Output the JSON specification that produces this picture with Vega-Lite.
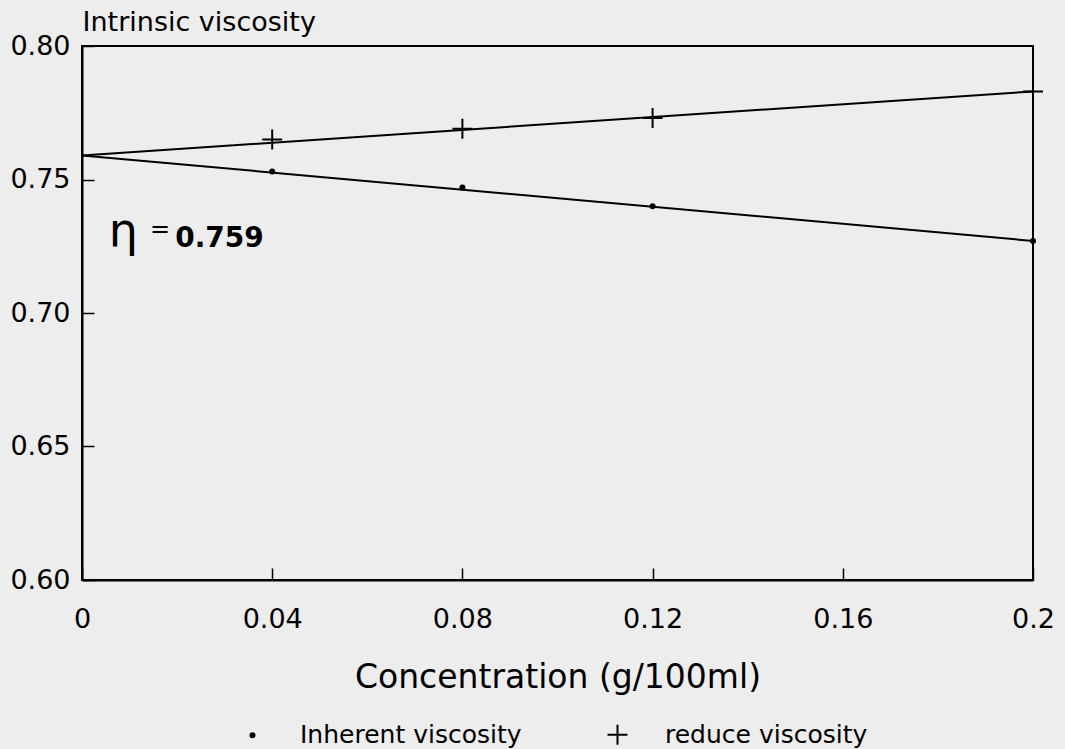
{
  "$schema": "https://vega.github.io/schema/vega-lite/v6.json",
  "autosize": "none",
  "width": 951,
  "height": 534,
  "padding": {"left": 82, "top": 46, "right": 32, "bottom": 169},
  "background": "#ededed",
  "config": {
    "font": "DejaVu Sans",
    "view": {"stroke": "black", "strokeWidth": 2},
    "axis": {"grid": false, "domainColor": "black", "domainWidth": 2, "tickColor": "black", "tickWidth": 1.5, "labelColor": "black", "titleColor": "black", "labelFontWeight": "normal", "titleFontWeight": "normal"}
  },
  "datasets": {
    "points": [
      {"c": 0.04, "v": 0.753, "series": "Inherent viscosity"},
      {"c": 0.08, "v": 0.747, "series": "Inherent viscosity"},
      {"c": 0.12, "v": 0.740, "series": "Inherent viscosity"},
      {"c": 0.2, "v": 0.727, "series": "Inherent viscosity"},
      {"c": 0.04, "v": 0.765, "series": "reduce viscosity"},
      {"c": 0.08, "v": 0.769, "series": "reduce viscosity"},
      {"c": 0.12, "v": 0.773, "series": "reduce viscosity"},
      {"c": 0.2, "v": 0.783, "series": "reduce viscosity"}
    ],
    "fits": [
      {"c": 0, "v": 0.759, "series": "Inherent viscosity"},
      {"c": 0.2, "v": 0.727, "series": "Inherent viscosity"},
      {"c": 0, "v": 0.759, "series": "reduce viscosity"},
      {"c": 0.2, "v": 0.783, "series": "reduce viscosity"}
    ],
    "one": [{}]
  },
  "layer": [
    {
      "data": {"name": "fits"},
      "mark": {"type": "line", "color": "black", "strokeWidth": 2},
      "encoding": {
        "x": {"field": "c", "type": "quantitative", "scale": {"domain": [0, 0.2], "nice": false},
          "axis": {"values": [0, 0.04, 0.08, 0.12, 0.16, 0.2], "tickSize": -12, "labelPadding": 38, "labelFontSize": 27, "labelBaseline": "top", "labelFlush": false,
            "labelExpr": "datum.value == 0 ? '0' : (abs(datum.value - 0.2) < 1e-9 ? '0.2' : format(datum.value, '.2f'))",
            "title": "Concentration (g/100ml)", "titleFontSize": 33, "titleBaseline": "middle", "titleY": 97}},
        "y": {"field": "v", "type": "quantitative", "scale": {"domain": [0.6, 0.8], "nice": false, "zero": false},
          "axis": {"values": [0.6, 0.65, 0.7, 0.75, 0.8], "format": ".2f", "tickSize": -12, "labelPadding": 24, "labelFontSize": 27, "labelFlush": false,
            "title": "Intrinsic viscosity", "titleFontSize": 27, "titleAngle": 0, "titleAlign": "left", "titleBaseline": "alphabetic", "titleX": 0, "titleY": -16}},
        "detail": {"field": "series"}
      }
    },
    {
      "data": {"name": "points"},
      "mark": {"type": "point", "filled": false, "fill": "black", "stroke": "black", "strokeWidth": 2, "opacity": 1, "fillOpacity": 1},
      "encoding": {
        "x": {"field": "c", "type": "quantitative"},
        "y": {"field": "v", "type": "quantitative"},
        "shape": {"field": "series", "type": "nominal",
          "scale": {"domain": ["Inherent viscosity", "reduce viscosity"], "range": ["circle", "M-1,0H1M0,-1V1"]},
          "legend": {"title": null, "orient": "none", "direction": "horizontal", "legendX": 158, "legendY": 676,
            "labelFontSize": 25, "labelLimit": 0, "labelColor": "black", "labelOffset": 35, "columnPadding": 81, "symbolStrokeColor": "black", "symbolStrokeWidth": 2, "symbolFillColor": "black", "symbolOpacity": 1}},
        "size": {"field": "series", "type": "nominal",
          "scale": {"domain": ["Inherent viscosity", "reduce viscosity"], "range": [16, 400]}}
      }
    },
    {
      "data": {"name": "one"},
      "mark": {"type": "text", "fontSize": 46, "baseline": "alphabetic", "align": "center", "color": "black"},
      "encoding": {"x": {"datum": 0.0087}, "y": {"datum": 0.7251}, "text": {"value": "η"}}
    },
    {
      "data": {"name": "one"},
      "mark": {"type": "text", "fontSize": 24, "baseline": "middle", "align": "center", "color": "black"},
      "encoding": {"x": {"datum": 0.0164}, "y": {"datum": 0.7311}, "text": {"value": "="}}
    },
    {
      "data": {"name": "one"},
      "mark": {"type": "text", "fontSize": 28, "fontWeight": "bold", "baseline": "alphabetic", "align": "left", "color": "black"},
      "encoding": {"x": {"datum": 0.0196}, "y": {"datum": 0.7247}, "text": {"value": "0.759"}}
    }
  ]
}
